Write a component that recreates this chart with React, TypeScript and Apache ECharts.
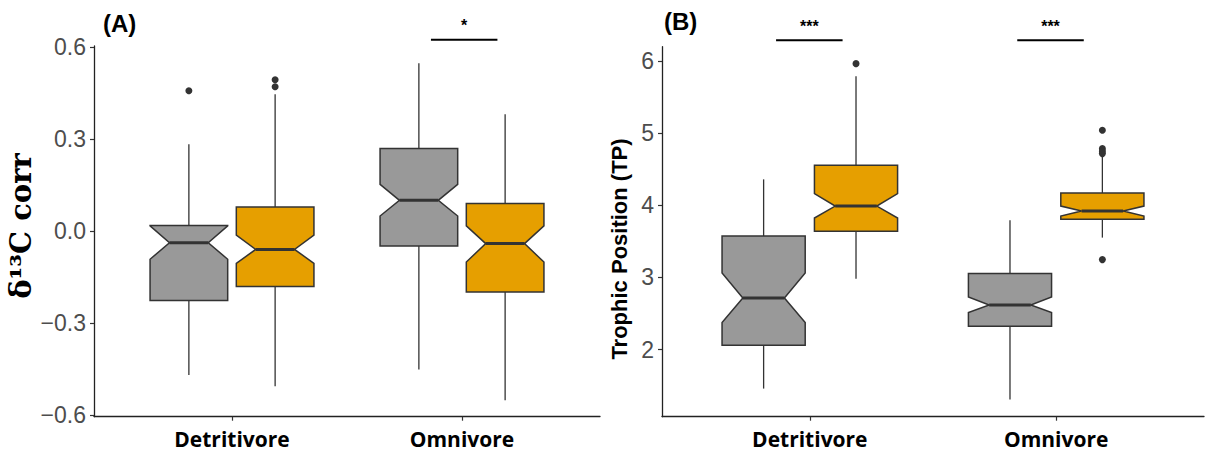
import React, { useEffect, useRef } from "react";
import * as echarts from "echarts";

const categories = ["Detritivore", "Omnivore"];
// stats: whiskerLow, Q1, notchLow, median, notchHigh, Q3, whiskerHigh
const d13cGray = [
  [-0.469, -0.226, -0.092, -0.038, 0.017, 0.018, 0.283],
  [-0.451, -0.049, 0.049, 0.1, 0.152, 0.269, 0.547],
];
const d13cOrange = [
  [-0.506, -0.181, -0.105, -0.06, -0.013, 0.078, 0.446],
  [-0.551, -0.199, -0.101, -0.041, 0.017, 0.09, 0.381],
];
const d13cGrayOutliers = [[0, 0.457]];
const d13cOrangeOutliers = [[0, 0.493], [0, 0.47]];

const tpGray = [
  [1.458, 2.058, 2.373, 2.714, 3.061, 3.574, 4.36],
  [1.305, 2.322, 2.512, 2.617, 2.728, 3.053, 3.792],
];
const tpOrange = [
  [2.983, 3.639, 3.824, 3.99, 4.162, 4.555, 5.789],
  [3.552, 3.806, 3.852, 3.921, 3.99, 4.171, 4.693],
];
const tpGrayOutliers: number[][] = [];
const tpOrangeOutliers = [[0, 5.965], [1, 5.04], [1, 4.786], [1, 4.75], [1, 4.717], [1, 3.247]];

const d13cTicks = [-0.6, -0.3, 0, 0.3, 0.6];
const tpTicks = [2, 3, 4, 5, 6];

// significance bars: [xStart, xEnd, y]
const d13cSigBars = [[1.865, 2.154, 0.623]];
const d13cSigLabels = ["*"];
const tpSigBars = [[0.863, 1.133, 6.288], [1.842, 2.112, 6.288]];
const tpSigLabels = ["***", "***"];

const GRAY = "#999999";
const ORANGE = "#E69F00";
const LINE = "#333333";
const DODGE = 0.1875;
const HALF_W = 0.16875;

function boxRender(fill: string) {
  return (params: any, api: any) => {
    const x = api.value(0);
    const wl = api.value(1), q1 = api.value(2), nl = api.value(3), med = api.value(4),
      nh = api.value(5), q3 = api.value(6), wh = api.value(7);
    const hw = HALF_W, nw = HALF_W * 0.5;
    const p = (xx: number, yy: number) => api.coord([xx, yy]);
    const c = p(x, med);
    const pts = [
      p(x - hw, q1), p(x - hw, nl), p(x - nw, med), p(x - hw, nh), p(x - hw, q3),
      p(x + hw, q3), p(x + hw, nh), p(x + nw, med), p(x + hw, nl), p(x + hw, q1),
    ];
    const pq1 = p(x, q1), pq3 = p(x, q3), pwl = p(x, wl), pwh = p(x, wh);
    const ml = p(x - nw, med), mr = p(x + nw, med);
    return {
      type: "group",
      children: [
        { type: "line", shape: { x1: c[0], y1: pq1[1], x2: c[0], y2: pwl[1] }, style: { stroke: LINE, lineWidth: 1.3 } },
        { type: "line", shape: { x1: c[0], y1: pq3[1], x2: c[0], y2: pwh[1] }, style: { stroke: LINE, lineWidth: 1.3 } },
        { type: "polygon", shape: { points: pts }, style: { fill, stroke: LINE, lineWidth: 1.5 } },
        { type: "line", shape: { x1: ml[0], y1: ml[1], x2: mr[0], y2: mr[1] }, style: { stroke: LINE, lineWidth: 3 } },
      ],
    };
  };
}

function sigRender(labels: string[]) {
  return (params: any, api: any) => {
    const a = api.coord([api.value(0), api.value(2)]);
    const b = api.coord([api.value(1), api.value(2)]);
    return {
      type: "group",
      children: [
        { type: "line", shape: { x1: a[0], y1: a[1], x2: b[0], y2: b[1] }, style: { stroke: "#000", lineWidth: 2 } },
        {
          type: "text",
          x: (a[0] + b[0]) / 2,
          y: a[1] - 6,
          style: { text: labels[params.dataIndex], fill: "#000", fontSize: 16, fontFamily: "Liberation Sans", fontWeight: "bold", align: "center", verticalAlign: "bottom" },
        },
      ],
    };
  };
}

function xAxisCfg(gridIndex: number) {
  return {
    type: "value",
    gridIndex,
    min: 0.4,
    max: 2.6,
    splitLine: { show: false },
    axisLine: { onZero: false, lineStyle: { color: "#222", width: 1.3 } },
    axisTick: { customValues: [1, 2], length: 4, lineStyle: { color: LINE, width: 1.2 } },
    axisLabel: {
      customValues: [1, 2],
      formatter: (v: number) => categories[Math.round(v) - 1],
      fontFamily: "Open Sans",
      fontWeight: "bold",
      fontSize: 21,
      color: "#000",
      margin: 12,
    },
  };
}

function yAxisCfg(gridIndex: number, min: number, max: number, ticks: number[], fmt: (v: number) => string) {
  return {
    type: "value",
    gridIndex,
    min,
    max,
    splitLine: { show: false },
    axisLine: { show: true, onZero: false, lineStyle: { color: "#222", width: 1.3 } },
    axisTick: { show: true, customValues: ticks, length: 4, lineStyle: { color: LINE, width: 1.2 } },
    axisLabel: { customValues: ticks, formatter: fmt, fontFamily: "Liberation Sans", fontSize: 23, color: "#4D4D4D", margin: 8 },
  };
}

function boxData(stats: number[][], offset: number) {
  return stats.map((s, i) => [i + 1 + offset, ...s]);
}
function outData(pts: number[][], offset: number) {
  return pts.map((p) => [p[0] + 1 + offset, p[1]]);
}

export default function App() {
  const ref = useRef<HTMLDivElement>(null);
  useEffect(() => {
    if (!ref.current) return;
    const chart = echarts.init(ref.current, null, { renderer: "svg" });
    const fmtA = (v: number) => (v < -1e-9 ? "\u2212" : "") + Math.abs(v).toFixed(1);
    const fmtB = (v: number) => String(Math.round(v));
    const enc = { x: 0, y: [1, 2, 3, 4, 5, 6, 7] };
    const outStyle = { color: LINE, opacity: 1 };
    chart.setOption({
      animation: false,
      backgroundColor: "#ffffff",
      grid: [
        { left: 94, right: 607, top: 46, bottom: 41.3 },
        { left: 662, right: 3, top: 46.7, bottom: 41.3 },
      ],
      xAxis: [xAxisCfg(0), xAxisCfg(1)],
      yAxis: [
        yAxisCfg(0, -0.605, 0.603, d13cTicks, fmtA),
        yAxisCfg(1, 1.068, 6.2, tpTicks, fmtB),
      ],
      graphic: [
        { type: "text", left: 103, top: 11, style: { text: "(A)", fontFamily: "Liberation Sans", fontWeight: "bold", fontSize: 24, fill: "#000" } },
        { type: "text", left: 664, top: 9, style: { text: "(B)", fontFamily: "Liberation Sans", fontWeight: "bold", fontSize: 24, fill: "#000" } },
        {
          type: "text", x: 21, y: 226, rotation: Math.PI / 2,
          style: { text: "\u03B4\u00B9\u00B3C corr", fontFamily: "DejaVu Serif", fontWeight: "bold", fontSize: 29, fill: "#000", align: "center", verticalAlign: "middle" },
        },
        {
          type: "text", x: 619, y: 249, rotation: Math.PI / 2,
          style: { text: "Trophic Position (TP)", fontFamily: "Liberation Sans", fontWeight: "bold", fontSize: 22, fill: "#000", align: "center", verticalAlign: "middle" },
        },
      ],
      series: [
        { type: "custom", xAxisIndex: 0, yAxisIndex: 0, renderItem: boxRender(GRAY), encode: enc, data: boxData(d13cGray, -DODGE) },
        { type: "custom", xAxisIndex: 0, yAxisIndex: 0, renderItem: boxRender(ORANGE), encode: enc, data: boxData(d13cOrange, DODGE) },
        { type: "scatter", xAxisIndex: 0, yAxisIndex: 0, symbolSize: 7, itemStyle: outStyle, data: outData(d13cGrayOutliers, -DODGE) },
        { type: "scatter", xAxisIndex: 0, yAxisIndex: 0, symbolSize: 7, itemStyle: outStyle, data: outData(d13cOrangeOutliers, DODGE) },
        { type: "custom", xAxisIndex: 0, yAxisIndex: 0, clip: false, renderItem: sigRender(d13cSigLabels), encode: { x: [0, 1], y: 2 }, data: d13cSigBars },

        { type: "custom", xAxisIndex: 1, yAxisIndex: 1, renderItem: boxRender(GRAY), encode: enc, data: boxData(tpGray, -DODGE) },
        { type: "custom", xAxisIndex: 1, yAxisIndex: 1, renderItem: boxRender(ORANGE), encode: enc, data: boxData(tpOrange, DODGE) },
        { type: "scatter", xAxisIndex: 1, yAxisIndex: 1, symbolSize: 7, itemStyle: outStyle, data: outData(tpGrayOutliers, -DODGE) },
        { type: "scatter", xAxisIndex: 1, yAxisIndex: 1, symbolSize: 7, itemStyle: outStyle, data: outData(tpOrangeOutliers, DODGE) },
        { type: "custom", xAxisIndex: 1, yAxisIndex: 1, clip: false, renderItem: sigRender(tpSigLabels), encode: { x: [0, 1], y: 2 }, data: tpSigBars },
      ],
    });
    return () => chart.dispose();
  }, []);
  return <div ref={ref} style={{ position: "fixed", left: 0, top: 0, width: 1207, height: 458 }} />;
}
